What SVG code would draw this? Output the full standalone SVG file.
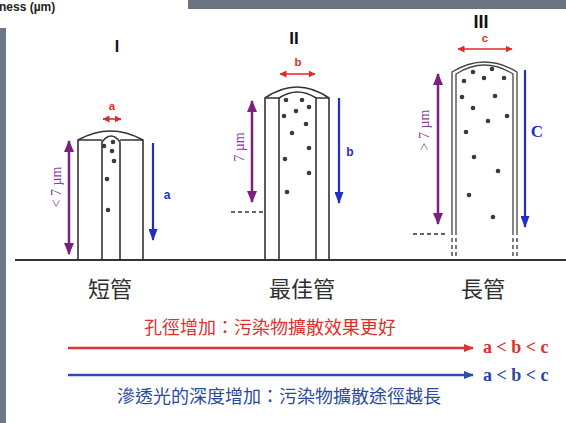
<svg xmlns="http://www.w3.org/2000/svg" width="566" height="423" viewBox="0 0 566 423">
  <style>
    .wall { fill: none; stroke: #333; stroke-width: 1.6; }
    .wall2 { fill: none; stroke: #444; stroke-width: 1.3; }
    .dot { fill: #3a3a3a; }
    .dash { stroke: #333; stroke-width: 1.3; stroke-dasharray: 4 3; fill: none; }
    .pur { stroke: #7b1f80; stroke-width: 2.5; fill: none; }
    .blu { stroke: #1e2fc2; stroke-width: 2.2; fill: none; }
    .red { stroke: #e0282a; stroke-width: 1.6; fill: none; }
    .ptxt { font-family: "Liberation Serif", serif; font-size: 14px; fill: #8a3d9a; text-anchor: middle; }
    .rtxt { font-family: "Liberation Sans", sans-serif; font-size: 11.5px; font-weight: bold; fill: #e0302c; text-anchor: middle; }
    .btxt { font-family: "Liberation Sans", sans-serif; font-size: 12px; font-weight: bold; fill: #1e2fc2; text-anchor: middle; }
    .num { font-family: "Liberation Sans", sans-serif; font-weight: bold; fill: #111; text-anchor: middle; }
    .name { font-family: "Noto Sans CJK TC", "Noto Sans CJK SC", sans-serif; font-size: 22px; fill: #2e2e2e; text-anchor: middle; }
    .cjk { font-family: "Noto Sans CJK TC", "Noto Sans CJK SC", sans-serif; font-size: 18px; text-anchor: middle; }
    .abc { font-family: "Liberation Serif", serif; font-size: 18px; font-weight: bold; }
  </style>
  <defs>
    <marker id="hp" viewBox="0 0 12 10" refX="11" refY="5" markerWidth="12" markerHeight="10" markerUnits="userSpaceOnUse" orient="auto-start-reverse">
      <path d="M0,0 L12,5 L0,10 Z" fill="#7b1f80"/>
    </marker>
    <marker id="hb" viewBox="0 0 12 9" refX="11" refY="4.5" markerWidth="12" markerHeight="9" markerUnits="userSpaceOnUse" orient="auto">
      <path d="M0,0 L12,4.5 L0,9 Z" fill="#1e2fc2"/>
    </marker>
    <marker id="hr" viewBox="0 0 7 7" refX="6.5" refY="3.5" markerWidth="7" markerHeight="7" markerUnits="userSpaceOnUse" orient="auto-start-reverse">
      <path d="M0,0 L7,3.5 L0,7 Z" fill="#e0282a"/>
    </marker>
    <marker id="hlr" viewBox="0 0 10 8" refX="9" refY="4" markerWidth="10" markerHeight="8" markerUnits="userSpaceOnUse" orient="auto">
      <path d="M0,0 L10,4 L0,8 Z" fill="#e23232"/>
    </marker>
    <marker id="hlb" viewBox="0 0 10 8" refX="9" refY="4" markerWidth="10" markerHeight="8" markerUnits="userSpaceOnUse" orient="auto">
      <path d="M0,0 L10,4 L0,8 Z" fill="#2a4fb0"/>
    </marker>
  </defs>

  <rect width="566" height="423" fill="#fff"/>

  <!-- frame strips -->
  <rect x="188" y="0" width="378" height="9" fill="#68747f"/>
  <rect x="0" y="28" width="6" height="395" fill="#6b7987"/>
  <text x="-1" y="11" font-family="Liberation Sans, sans-serif" font-size="12" font-weight="bold" fill="#222">ness (µm)</text>

  <!-- ground -->
  <line x1="15" y1="260" x2="566" y2="260" stroke="#333" stroke-width="2"/>

  <!-- short tube -->
  <g id="tube-short">
    <text class="num" x="117" y="52" font-size="16">I</text>
    <path class="wall" d="M78,260 V140 Q110.5,122 143,140 V260"/>
    <path class="wall" d="M78,140 H102 M120,140 H143"/>
    <path class="wall" d="M102,260 V142 Q111,130 120,142 V260"/>
    <circle class="dot" cx="104" cy="146" r="2.3"/>
    <circle class="dot" cx="113" cy="142" r="2.3"/>
    <circle class="dot" cx="112" cy="151" r="2.3"/>
    <circle class="dot" cx="114" cy="161" r="2.3"/>
    <circle class="dot" cx="107" cy="179" r="2.3"/>
    <circle class="dot" cx="108" cy="210" r="2.3"/>
    <text class="name" x="110" y="297">短管</text>
  </g>

  <!-- optimal tube -->
  <g id="tube-optimal">
    <text class="num" x="294" y="44" font-size="17">II</text>
    <path class="wall" d="M265,260 V98 Q297,76 329,98 V260"/>
    <path class="wall" d="M265,98 H279 M316,98 H329"/>
    <path class="wall" d="M279,260 V98 Q297.5,86 316,98 V260"/>
    <line class="dash" x1="231" y1="212" x2="265" y2="212"/>
    <circle class="dot" cx="286" cy="100" r="2.3"/>
    <circle class="dot" cx="302" cy="100" r="2.3"/>
    <circle class="dot" cx="296" cy="111" r="2.3"/>
    <circle class="dot" cx="309" cy="107" r="2.3"/>
    <circle class="dot" cx="284" cy="116" r="2.3"/>
    <circle class="dot" cx="306" cy="124" r="2.3"/>
    <circle class="dot" cx="292" cy="133" r="2.3"/>
    <circle class="dot" cx="309" cy="148" r="2.3"/>
    <circle class="dot" cx="285" cy="159" r="2.3"/>
    <circle class="dot" cx="309" cy="173" r="2.3"/>
    <circle class="dot" cx="287" cy="192" r="2.3"/>
    <text class="name" x="302" y="297">最佳管</text>
  </g>

  <!-- long tube -->
  <g id="tube-long">
    <text class="num" x="481" y="28" font-size="18">III</text>
    <path class="wall2" d="M452,235 V72 Q484.5,52 517,72 V235"/>
    <path class="wall2" d="M456,235 V74 Q484.5,56 513,74 V235"/>
    <path class="dash" d="M452,238 V260 M456,238 V260 M513,238 V260 M517,238 V260" stroke-dasharray="3 2"/>
    <line class="dash" x1="413" y1="234" x2="445" y2="234"/>
    <circle class="dot" cx="473" cy="72" r="2.3"/>
    <circle class="dot" cx="492" cy="69" r="2.3"/>
    <circle class="dot" cx="464" cy="81" r="2.3"/>
    <circle class="dot" cx="484" cy="78" r="2.3"/>
    <circle class="dot" cx="504" cy="78" r="2.3"/>
    <circle class="dot" cx="462" cy="97" r="2.3"/>
    <circle class="dot" cx="495" cy="96" r="2.3"/>
    <circle class="dot" cx="473" cy="108" r="2.3"/>
    <circle class="dot" cx="507" cy="116" r="2.3"/>
    <circle class="dot" cx="488" cy="121" r="2.3"/>
    <circle class="dot" cx="466" cy="132" r="2.3"/>
    <circle class="dot" cx="474" cy="157" r="2.3"/>
    <circle class="dot" cx="498" cy="171" r="2.3"/>
    <circle class="dot" cx="469" cy="195" r="2.3"/>
    <circle class="dot" cx="493" cy="217" r="2.3"/>
    <text class="name" x="483" y="297">長管</text>
  </g>

  <!-- dimension arrows and trend arrows -->
  <g id="connectors">
    <line class="pur" x1="69" y1="141" x2="69" y2="254" marker-start="url(#hp)" marker-end="url(#hp)"/>
    <line class="pur" x1="252" y1="101" x2="252" y2="202" marker-start="url(#hp)" marker-end="url(#hp)"/>
    <line class="pur" x1="438" y1="74" x2="438" y2="224" marker-start="url(#hp)" marker-end="url(#hp)"/>

    <line class="blu" x1="153" y1="143" x2="153" y2="240" marker-end="url(#hb)"/>
    <line class="blu" x1="339" y1="98" x2="339" y2="203" marker-end="url(#hb)"/>
    <line class="blu" x1="525" y1="70" x2="525" y2="227" marker-end="url(#hb)"/>

    <line class="red" x1="103" y1="119" x2="121" y2="119" marker-start="url(#hr)" marker-end="url(#hr)"/>
    <line class="red" x1="280" y1="74" x2="315" y2="74" marker-start="url(#hr)" marker-end="url(#hr)"/>
    <line class="red" x1="458" y1="49" x2="512" y2="49" marker-start="url(#hr)" marker-end="url(#hr)"/>

    <line x1="68" y1="348" x2="473" y2="348" stroke="#e23232" stroke-width="2.5" marker-end="url(#hlr)"/>
    <line x1="68" y1="375" x2="473" y2="375" stroke="#2a4fb0" stroke-width="2.5" marker-end="url(#hlb)"/>
  </g>

  <text class="ptxt" transform="translate(61,187) rotate(-90)">&lt; 7 µm</text>
  <text class="ptxt" transform="translate(244,147) rotate(-90)">7 µm</text>
  <text class="ptxt" transform="translate(429,130) rotate(-90)">&gt; 7 µm</text>

  <text class="rtxt" x="112" y="110">a</text>
  <text class="rtxt" x="298" y="66">b</text>
  <text class="rtxt" x="485" y="42">c</text>

  <text class="btxt" x="167" y="199">a</text>
  <text class="btxt" x="350" y="156">b</text>
  <text x="537" y="137" font-family="Liberation Serif, serif" font-size="17" font-weight="bold" fill="#1e2fc2" text-anchor="middle">C</text>

  <text class="cjk" x="270" y="334" fill="#e0302c">孔徑增加：污染物擴散效果更好</text>
  <text class="abc" x="483" y="353" fill="#e0302c">a &lt; b &lt; c</text>
  <text class="abc" x="483" y="381" fill="#2a4aa0">a &lt; b &lt; c</text>
  <text class="cjk" x="279" y="403" fill="#2a4aa0">滲透光的深度增加：污染物擴散途徑越長</text>
</svg>
